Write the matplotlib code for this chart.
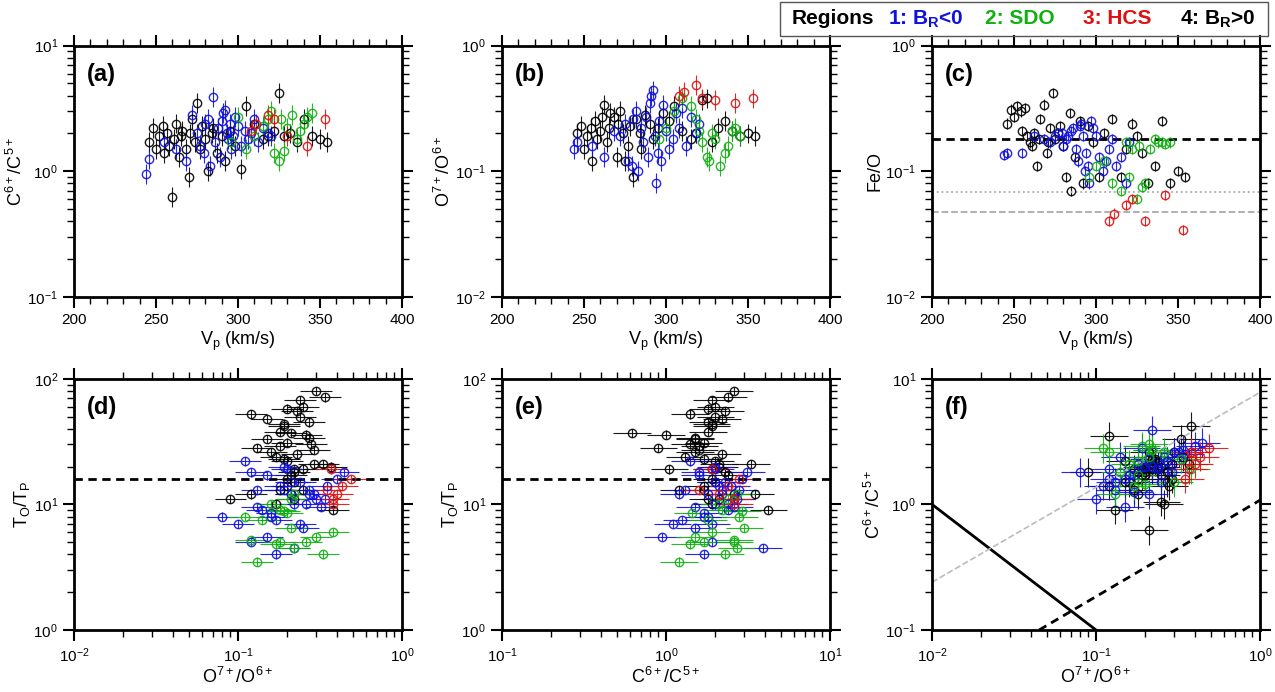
import matplotlib
matplotlib.use("Agg")
import matplotlib.pyplot as plt
import numpy as np
from matplotlib.ticker import MultipleLocator, LogLocator, NullFormatter
from matplotlib.patches import Rectangle

plt.rcParams['font.family'] = ['Liberation Sans', 'DejaVu Sans']
plt.rcParams['mathtext.fontset'] = 'custom'
plt.rcParams['mathtext.rm'] = 'Liberation Sans'

# ---------------- data ----------------
black_vp = [246,248,250,252,254,255,257,258,260,261,262,264,265,266,268,270,271,272,274,275,277,278,280,282,284,285,287,290,292,295,298,302,305,310,315,318,322,325,328,332,336,340,345,350,354]
black_c65 = [1.7,2.2,1.5,1.9,2.3,1.4,2.0,1.6,0.62,1.8,2.4,1.3,1.9,2.1,1.5,0.9,2.0,2.6,1.7,3.5,1.5,2.3,1.8,1.0,2.0,2.2,1.4,1.9,1.2,2.1,1.6,1.05,3.3,2.4,1.8,1.9,2.1,4.2,1.9,2.0,1.7,2.6,1.9,1.8,1.7]
black_o76 = [0.20,0.23,0.15,0.19,0.22,0.12,0.25,0.18,0.21,0.27,0.34,0.17,0.22,0.29,0.27,0.13,0.24,0.30,0.20,0.12,0.16,0.23,0.09,0.26,0.20,0.15,0.28,0.24,0.18,0.22,0.29,0.25,0.33,0.21,0.18,0.20,0.37,0.38,0.17,0.22,0.25,0.21,0.19,0.20,0.19]
black_feo = [0.24,0.31,0.27,0.33,0.30,0.21,0.32,0.19,0.17,0.16,0.20,0.11,0.18,0.26,0.34,0.14,0.17,0.22,0.42,0.18,0.20,0.23,0.16,0.09,0.29,0.07,0.13,0.25,0.08,0.23,0.17,0.09,0.20,0.26,0.09,0.15,0.24,0.19,0.14,0.08,0.11,0.25,0.08,0.10,0.09]
black_totp = [14,25,33,42,18,52,60,29,37,45,71,24,19,21,34,28,50,80,31,12,26,55,11,36,22,48,30,68,13,11,27,19,21,17,38,16,20,9,10,15,13,12,44,58,23]

blue_vp = [244,246,255,262,268,272,275,277,279,280,282,283,285,286,288,289,290,291,292,293,294,295,296,297,298,300,302,304,306,308,310,312,315,318,320]
blue_c65 = [0.95,1.25,1.7,1.5,1.2,2.8,2.0,1.6,1.4,2.4,2.6,1.1,3.9,1.7,2.2,1.3,2.5,2.9,3.1,2.0,1.8,2.4,1.5,1.9,2.7,2.3,1.6,2.1,1.8,2.0,2.6,1.7,2.2,2.0,1.9]
blue_o76 = [0.15,0.17,0.16,0.13,0.21,0.19,0.24,0.12,0.11,0.26,0.30,0.10,0.22,0.17,0.27,0.13,0.35,0.40,0.44,0.19,0.08,0.14,0.25,0.12,0.34,0.21,0.15,0.18,0.29,0.22,0.32,0.16,0.27,0.20,0.24]
blue_feo = [0.135,0.14,0.14,0.19,0.18,0.17,0.19,0.20,0.20,0.16,0.18,0.19,0.21,0.22,0.15,0.12,0.23,0.24,0.19,0.10,0.14,0.11,0.08,0.25,0.22,0.19,0.13,0.10,0.12,0.15,0.18,0.11,0.13,0.08,0.17]
blue_totp = [5.5,7.5,8.5,9.5,12,13,15,18,22,10,11,7,4.5,4,12,13,14,16,18,20,8,9,6.5,5,11,15,17,14,12,10,9.5,8,13,19,7]

green_vp = [296,300,305,310,315,318,320,322,325,326,328,330,333,336,338,340,342,345]
green_c65 = [1.7,2.7,1.5,1.9,2.3,2.6,3.0,1.4,1.2,2.6,1.45,2.2,2.8,1.8,2.1,2.4,2.7,2.9]
green_o76 = [0.18,0.22,0.30,0.38,0.33,0.26,0.21,0.17,0.13,0.12,0.20,0.18,0.11,0.14,0.16,0.21,0.22,0.19]
green_feo = [0.09,0.11,0.12,0.08,0.07,0.17,0.09,0.15,0.06,0.16,0.075,0.08,0.15,0.18,0.17,0.17,0.165,0.17]
green_totp = [5,4.5,5.5,6,4,5,6.5,4.8,3.5,5.2,8.5,9,8,7.5,10,11,12,8.8]

red_vp = [308,311,318,322,330,342,353]
red_c65 = [2.1,2.4,2.8,2.6,1.9,1.6,2.6]
red_o76 = [0.40,0.43,0.49,0.38,0.37,0.35,0.38]
red_feo = [0.040,0.046,0.054,0.060,0.040,0.065,0.034]
red_totp = [12,14,16,11,19,13,10]

regions = [
    ("black", black_vp, black_c65, black_o76, black_feo, black_totp),
    ("#1010e0", blue_vp, blue_c65, blue_o76, blue_feo, blue_totp),
    ("#10b010", green_vp, green_c65, green_o76, green_feo, green_totp),
    ("#e01010", red_vp, red_c65, red_o76, red_feo, red_totp),
]

feo_levels = [0.18, 0.068, 0.047]
totp_level = 16
line_solid = ([0.01, 0.1], [1.0, 0.1])
line_dash = ([0.045, 1.0], [0.1, 1.08])
line_gray = ([0.01, 1.0], [0.24, 7.8])

# ---------------- figure ----------------
fig = plt.figure(figsize=(12.75, 6.92), dpi=100)
lefts = [74/1275, 502/1275, 932/1275]
W = 328/1275
H = 0.363
bots = [0.571, 0.0896]
axs = [[fig.add_axes([l, b, W, H]) for l in lefts] for b in bots]

def style(ax, xlog, ylog, xlim, ylim):
    ax.set_xlim(*xlim); ax.set_ylim(*ylim)
    if xlog:
        ax.set_xscale('log')
        ax.xaxis.set_major_locator(LogLocator(10))
        ax.xaxis.set_minor_locator(LogLocator(10, subs=np.arange(2, 10)))
        ax.xaxis.set_minor_formatter(NullFormatter())
    else:
        ax.xaxis.set_major_locator(MultipleLocator(50))
        ax.xaxis.set_minor_locator(MultipleLocator(10))
    if ylog:
        ax.set_yscale('log')
        ax.yaxis.set_major_locator(LogLocator(10))
        ax.yaxis.set_minor_locator(LogLocator(10, subs=np.arange(2, 10)))
        ax.yaxis.set_minor_formatter(NullFormatter())
    for s in ax.spines.values():
        s.set_linewidth(2)
    ax.tick_params(which='both', direction='out', top=True, right=True, labelsize=11)
    ax.tick_params(which='major', length=8, width=1.5)
    ax.tick_params(which='minor', length=5, width=1)

def plot(ax, xs, ys, xe, ye, c):
    xs = np.array(xs); ys = np.array(ys)
    xerr = [xs*xe/(1+xe), xs*xe] if xe else None
    yerr = [ys*ye/(1+ye), ys*ye] if ye else None
    ax.errorbar(xs, ys, xerr=xerr, yerr=yerr, fmt='o', ms=6, mfc='none', mec=c,
                mew=1, ecolor=c, elinewidth=0.8, capsize=0, alpha=0.9)

for c, vp, c65, o76, feo, totp in regions:
    plot(axs[0][0], vp, c65, 0, 0.2, c)
    plot(axs[0][1], vp, o76, 0, 0.2, c)
    plot(axs[0][2], vp, feo, 0, 0.1, c)
    plot(axs[1][0], o76, totp, 0.25, 0.08, c)
    plot(axs[1][1], c65, totp, 0.3, 0.08, c)
    plot(axs[1][2], o76, c65, 0.3, 0.3, c)

ax = axs[0][2]
ax.axhline(feo_levels[0], color='black', ls=(0, (3, 2)), lw=2)
ax.axhline(feo_levels[1], color='#aaaaaa', ls=':', lw=1.3)
ax.axhline(feo_levels[2], color='#aaaaaa', ls='--', lw=1.3)
for ax in (axs[1][0], axs[1][1]):
    ax.axhline(totp_level, color='black', ls=(0, (3, 2)), lw=2)
ax = axs[1][2]
ax.plot(*line_solid, color='black', lw=2)
ax.plot(*line_dash, color='black', lw=2, ls=(0, (3, 2)))
ax.plot(*line_gray, color='#bbbbbb', lw=1.2, ls='--')

style(axs[0][0], False, True, (200, 400), (0.1, 10))
style(axs[0][1], False, True, (200, 400), (0.01, 1))
style(axs[0][2], False, True, (200, 400), (0.01, 1))
style(axs[1][0], True, True, (0.01, 1), (1, 100))
style(axs[1][1], True, True, (0.1, 10), (1, 100))
style(axs[1][2], True, True, (0.01, 1), (0.1, 10))

ylabels = ["C$^{6+}$/C$^{5+}$", "O$^{7+}$/O$^{6+}$", "Fe/O",
           "T$_\\mathregular{O}$/T$_\\mathregular{P}$", "T$_\\mathregular{O}$/T$_\\mathregular{P}$", "C$^{6+}$/C$^{5+}$"]
xlabels = ["V$_\\mathregular{p}$ (km/s)"]*3 + ["O$^{7+}$/O$^{6+}$", "C$^{6+}$/C$^{5+}$", "O$^{7+}$/O$^{6+}$"]
letters = "abcdef"
for i, ax in enumerate([a for row in axs for a in row]):
    ax.set_ylabel(ylabels[i], fontsize=13, labelpad=1)
    ax.set_xlabel(xlabels[i], fontsize=13, labelpad=2)
    ax.text(0.04, 0.93, f"({letters[i]})", transform=ax.transAxes, fontsize=17,
            fontweight='bold', va='top', ha='left')

# legend box
fig.patches.append(Rectangle((780/1275, 1-36/692), 488/1275, 34/692, transform=fig.transFigure,
                             fill=False, ec='#555555', lw=1))
items = [("Regions", "black", 792), ("1: B$_\\mathregular{R}$<0", "#1010e0", 888),
         ("2: SDO", "#10b010", 985), ("3: HCS", "#e01010", 1083), ("4: B$_\\mathregular{R}$>0", "black", 1180)]
for t, c, x in items:
    fig.text(x/1275, 1-19/692, t, color=c, fontsize=15, fontweight='bold', va='center', ha='left')

fig.savefig("out.png", dpi=100)
